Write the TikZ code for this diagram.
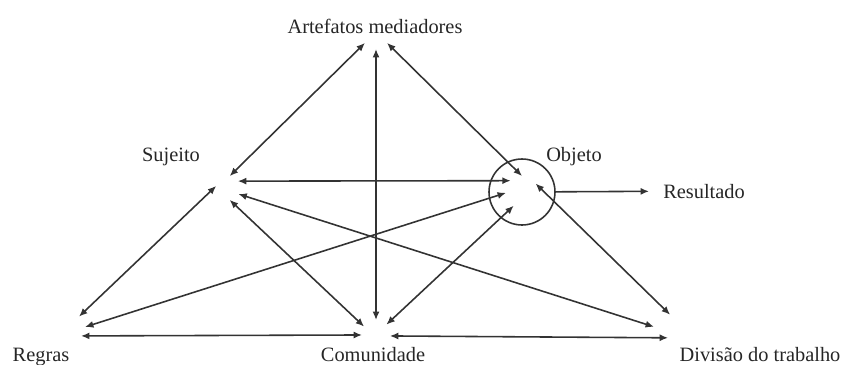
\documentclass[tikz,border=0pt]{standalone}
\usepackage{fontspec}
\setmainfont{Liberation Serif}
\usetikzlibrary{arrows.meta}
\tikzset{
  lbl/.style={anchor=base, text=black!85, font=\fontsize{11.6}{14}\selectfont},
  hub/.style={circle, inner sep=0pt, outer sep=0pt, minimum size=#1},
  link/.style={draw=black!80, line width=0.9pt,
    {Latex[length=4.8pt,width=4pt]}-{Latex[length=4.8pt,width=4pt]}},
  single/.style={draw=black!80, line width=0.9pt, -{Latex[length=4.8pt,width=4pt]}}
}
\begin{document}
\begin{tikzpicture}[x=0.02cm, y=-0.02cm]
  \useasboundingbox (0,0) rectangle (845,365);
  % labels
  \node[lbl] (art) at (375,33) {Artefatos mediadores};
  \node[lbl] (suj) at (171,161) {Sujeito};
  \node[lbl] (obj) at (574,161) {Objeto};
  \node[lbl] (res) at (704,198) {Resultado};
  \node[lbl] (reg) at (41,361) {Regras};
  \node[lbl] (com) at (373,361) {Comunidade};
  \node[lbl] (div) at (760,361) {Divisão do trabalho};
  % points where the arrows meet
  \node[hub=0.52cm] (a) at (376,36) {};
  \node[hub=0.48cm] (s) at (228,188) {};
  \node[hub=0.64cm] (o) at (522,192) {};
  \node[hub=0.48cm] (r) at (73,327) {};
  \node[hub=0.56cm] (c) at (376,334) {};
  \node[hub=0.48cm] (d) at (666,326) {};
  \node[circle, draw=black!80, line width=0.9pt, inner sep=0pt, minimum size=1.32cm] (ring) at (522,192) {};
  % arrows
  \draw[link] (a.212) -- (s.82);
  \draw[link] (a.270) -- (c.90);
  \draw[link] (a.328) -- (o.90);
  \draw[link] (s.35) -- (o.135);
  \draw[link] (s.170) -- (r.60);
  \draw[link] (s.-82) -- (c.148);
  \draw[link] (s.-30) -- (d.184);
  \draw[link] (r.0) -- (o.183);
  \draw[link] (r.-48) -- (c.184);
  \draw[link] (c.42) -- (o.239);
  \draw[link] (c.-8) -- (d.-80);
  \draw[link] (o.32) -- (d.70);
  \draw[single, shorten >=0.16cm] (ring) -- (res);
\end{tikzpicture}
\end{document}
